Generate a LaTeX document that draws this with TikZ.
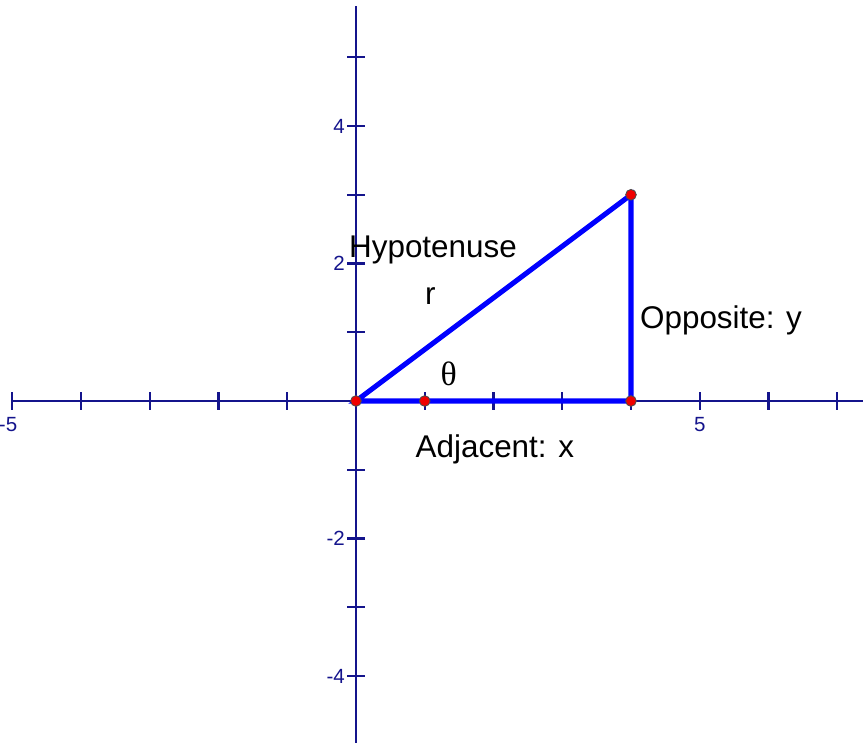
\documentclass[tikz,border=0pt]{standalone}
\usepackage{fontspec}
\setmainfont{Liberation Sans}
\newfontfamily\thetafont{Liberation Serif}
\usepackage{tikz}
\usetikzlibrary{arrows.meta, positioning, calc}

\definecolor{axisblue}{RGB}{20,20,140}
\definecolor{sideblue}{RGB}{0,0,255}
\definecolor{ptred}{RGB}{240,0,0}

\begin{document}
\begin{tikzpicture}[
  axisline/.style={draw=axisblue, line width=0.85pt},
  ticklbl/.style={text=axisblue, font=\fontsize{8.5}{10}\selectfont, inner sep=1pt},
  side/.style={draw=sideblue, line width=2.1pt},
  vertex/.style={circle, fill=ptred, draw=black!70, line width=0.35pt, inner sep=0pt, minimum size=4.4pt},
  lbl/.style={font=\fontsize{13}{15}\selectfont, inner sep=0pt},
]
\useasboundingbox (-5.178,-4.960) rectangle (7.375,5.833);

% axes
\coordinate (xl) at (-5.02,0);
\coordinate (xr) at (7.40,0);
\coordinate (yb) at (0,-5.00);
\coordinate (yt) at (0,5.745);
\draw[axisline] (xl) -- (xr);
\draw[axisline] (yb) -- (yt);
\foreach \i in {-5,...,7} {
  \draw[axisline] (\i,-0.13) -- (\i,0.13);
}
\foreach \j in {-4,...,5} {
  \draw[axisline] (-0.13,\j) -- (0.13,\j);
}

\node[ticklbl, below=0.2cm] (xm5) at (-5.06,0) {-5};
\node[ticklbl, below=0.2cm] (x5)  at (5,0)  {5};
\node[ticklbl, anchor=east] (y4)  at (-0.12,4)  {4};
\node[ticklbl, anchor=east] (y2)  at (-0.12,2)  {2};
\node[ticklbl, anchor=east] (ym2) at (-0.12,-2) {-2};
\node[ticklbl, anchor=east] (ym4) at (-0.12,-4) {-4};

% triangle
\coordinate (O) at (0,0);
\coordinate (A) at (4,0);
\coordinate (B) at (4,3);
\coordinate (U) at (1,0);
\draw[side] (O) -- (A) -- (B) -- cycle;

\node[vertex] (pO) at (O) {};
\node[vertex] (pA) at (A) {};
\node[vertex] (pB) at (B) {};
\node[vertex] (pU) at (U) {};

% labels
\node[lbl] (hyp) at (1.12,2.20) {Hypotenuse};
\node[lbl] (r)   at (1.08,1.52) {r};
\node[lbl, font=\thetafont\fontsize{14}{16}\selectfont] (th) at (1.35,0.40) {θ};
\node[lbl] (opp) at (5.31,1.18) {Opposite: y};
\node[lbl] (adj) at (2.02,-0.71) {Adjacent: x};

\end{tikzpicture}
\end{document}
